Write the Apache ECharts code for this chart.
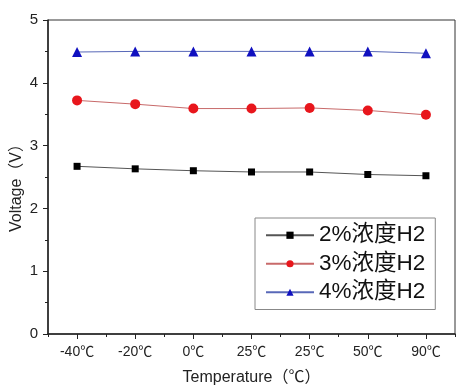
<!DOCTYPE html>
<html><head><meta charset="utf-8">
<script src="https://cdn.jsdelivr.net/npm/echarts@6/dist/echarts.min.js"></script>
<style>html,body{margin:0;padding:0;background:#fff}#c{width:465px;height:388px}</style>
</head><body><div id="c"></div>
<script>
const categories = ['-40℃','-20℃','0℃','25℃','25℃','50℃','90℃'];
const h2_2 = [2.67, 2.63, 2.60, 2.58, 2.58, 2.54, 2.52];
const h2_3 = [3.72, 3.66, 3.59, 3.59, 3.60, 3.56, 3.49];
const h2_4 = [4.49, 4.50, 4.50, 4.50, 4.50, 4.50, 4.47];
const seriesNames = ['2%浓度H2','3%浓度H2','4%浓度H2'];
const FONT = '"Liberation Sans", Arial, "Noto Sans CJK SC", sans-serif';
const chart = echarts.init(document.getElementById('c'));
chart.setOption({
  animation: false,
  backgroundColor: '#fff',
  textStyle: {fontFamily: FONT},
  grid: {left: 48, right: 10, top: 20, bottom: 54, show: true, borderColor: '#333', borderWidth: 1,
         outerBoundsMode: 'none', containLabel: false},
  legend: {
    orient: 'vertical', left: 255, top: 218, width: 179,
    padding: [6, 10, 6, 10], itemGap: 6, itemWidth: 48, itemHeight: 9,
    backgroundColor: '#fff', borderColor: '#888', borderWidth: 1, borderRadius: 0,
    textStyle: {fontSize: 22.5, color: '#111', fontFamily: FONT},
    data: seriesNames
  },
  xAxis: [{
    type: 'category', data: categories, boundaryGap: true,
    name: 'Temperature（℃）', nameLocation: 'middle', nameGap: 36, nameMoveOverlap: false,
    nameTextStyle: {fontSize: 16, color: '#222', fontFamily: FONT},
    axisLine: {show: true, lineStyle: {color: '#222', width: 1.5}},
    axisTick: {show: true, alignWithLabel: true, length: 5, lineStyle: {color: '#222'}},
    axisLabel: {fontSize: 14, color: '#222', margin: 11},
    splitLine: {show: false}
  }, {
    type: 'category', data: categories, boundaryGap: true, position: 'bottom',
    axisLine: {show: false},
    axisTick: {show: true, alignWithLabel: false, length: 3, lineStyle: {color: '#222'}},
    axisLabel: {show: false}, splitLine: {show: false}
  }],
  yAxis: {
    type: 'value', min: 0, max: 5, interval: 1,
    name: 'Voltage（V）', nameLocation: 'middle', nameGap: 23, nameRotate: 90, nameMoveOverlap: false,
    nameTextStyle: {fontSize: 16, color: '#222', fontFamily: FONT, padding: [0, 14, 0, 0]},
    axisLine: {show: true, lineStyle: {color: '#222', width: 1.5}},
    axisTick: {show: true, length: 5, lineStyle: {color: '#222'}},
    minorTick: {show: true, splitNumber: 2, length: 3, lineStyle: {color: '#222'}},
    axisLabel: {fontSize: 15, color: '#222', margin: 10},
    splitLine: {show: false}
  },
  series: [
    {name: seriesNames[0], type: 'line', data: h2_2, symbol: 'rect', symbolSize: 7,
     itemStyle: {color: '#000'}, lineStyle: {color: '#555', width: 1}},
    {name: seriesNames[1], type: 'line', data: h2_3, symbol: 'circle', symbolSize: 10,
     itemStyle: {color: '#e8161c'}, lineStyle: {color: '#c86a6a', width: 1}},
    {name: seriesNames[2], type: 'line', data: h2_4, symbol: 'triangle', symbolSize: 10,
     itemStyle: {color: '#1010c0'}, lineStyle: {color: '#5868b8', width: 1}}
  ]
});
</script></body></html>
